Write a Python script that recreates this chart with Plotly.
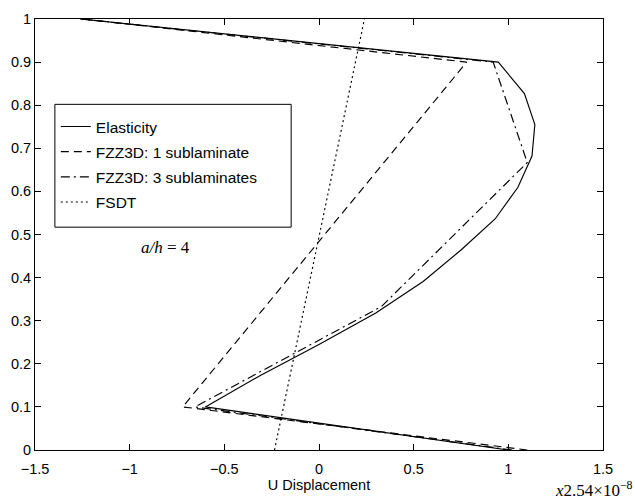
import plotly.graph_objects as go

# Elasticity (solid)
elas_u = [1.00, -0.60, -0.31, 0.00, 0.30, 0.55, 0.75, 0.93, 1.05, 1.125, 1.14, 1.085, 0.947, -1.26]
elas_z = [0.00, 0.10, 0.173, 0.245, 0.318, 0.391, 0.464, 0.536, 0.609, 0.682, 0.755, 0.827, 0.90, 1.00]

# FZZ3D: 1 sublaminate (dashed)
fzz1_u = [1.10, -0.72, 0.78, -1.25]
fzz1_z = [0.00, 0.10, 0.90, 1.00]

# FZZ3D: 3 sublaminates (dash-dot)
fzz3_u = [1.02, -0.655, 0.33, 1.10, 0.92, -1.26]
fzz3_z = [0.00, 0.10, 0.333, 0.667, 0.90, 1.00]

# FSDT (dotted)
fsdt_u = [-0.235, 0.24]
fsdt_z = [0.00, 1.00]

x_ticks = [-1.5, -1, -0.5, 0, 0.5, 1, 1.5]
y_ticks = [0, 0.1, 0.2, 0.3, 0.4, 0.5, 0.6, 0.7, 0.8, 0.9, 1]

series = [
    ("Elasticity", elas_u, elas_z, "solid"),
    ("FZZ3D: 1 sublaminate", fzz1_u, fzz1_z, "8px,5px"),
    ("FZZ3D: 3 sublaminates", fzz3_u, fzz3_z, "9px,4px,2px,4px"),
    ("FSDT", fsdt_u, fsdt_z, "2px,3px"),
]

fig = go.Figure()
for name, u, z, dash in series:
    fig.add_trace(go.Scatter(
        x=u, y=z, mode="lines", name=name, legendgroup=name,
        line=dict(color="black", width=1.15, dash=dash),
    ))

font = "Liberation Sans, Arial, sans-serif"
serif = "Liberation Serif, Times New Roman, serif"
fig.update_layout(
    width=635, height=500,
    margin=dict(l=31, r=32, t=11, b=44),
    paper_bgcolor="white", plot_bgcolor="white",
    font=dict(family=font, size=14.5, color="black"),
    showlegend=True,
    legend=dict(
        x=0.0367, y=0.789, xanchor="left", yanchor="top",
        bgcolor="rgba(0,0,0,0)", borderwidth=0,
        font=dict(family=font, size=15.5, color="black"),
        itemwidth=30, tracegroupgap=2, traceorder="grouped",
    ),
    xaxis=dict(
        range=[-1.5, 1.5], tickvals=x_ticks, ticktext=[str(v).replace("-", "−") for v in x_ticks],
        ticks="inside", ticklen=6, tickcolor="black", showgrid=False, zeroline=False,
        showline=True, linecolor="black", linewidth=1, mirror="ticks",
        ticklabelstandoff=6,
        title=dict(text="U Displacement", standoff=1, font=dict(size=14.5)),
    ),
    yaxis=dict(
        range=[0, 1], tickvals=y_ticks, ticktext=[("%g" % v) for v in y_ticks],
        ticks="inside", ticklen=6, tickcolor="black", showgrid=False, zeroline=False,
        showline=True, linecolor="black", linewidth=1, mirror="ticks",
    ),
    shapes=[dict(
        type="rect", xref="paper", yref="paper",
        x0=0.035, x1=0.451, y0=0.517, y1=0.802,
        line=dict(color="black", width=1), fillcolor="rgba(0,0,0,0)",
    )],
    annotations=[
        dict(text="<i>a/h</i> = 4", x=-0.81, y=0.47, xref="x", yref="y",
             showarrow=False, font=dict(family=serif, size=17)),
        dict(text="<i>x</i>2.54×10<sup>−8</sup>", x=1.0, y=-0.02, xref="paper", yref="paper",
             xanchor="right", yanchor="top", xshift=32, yshift=-17, showarrow=False,
             font=dict(family=serif, size=17)),
    ],
)

fig.write_html("out.html")
